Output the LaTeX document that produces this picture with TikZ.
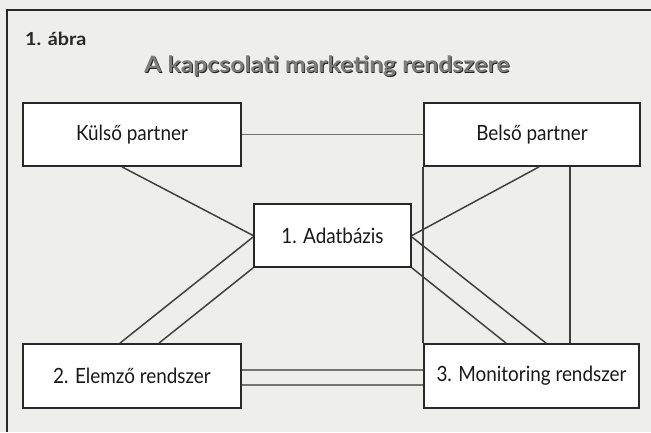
\documentclass[tikz,border=0pt]{standalone}
\usepackage{fontspec}
\setmainfont{Lato}[FakeStretch=0.9]
\newfontfamily\widefont{Lato}[FakeStretch=1.1]
\definecolor{bgcol}{RGB}{238,238,236}
\definecolor{ink}{RGB}{40,40,40}
\definecolor{titlefill}{RGB}{125,125,125}
\begin{document}
\begin{tikzpicture}[x=1pt,y=-1pt,
  box/.style={draw=ink, line width=1.8pt, fill=white, inner sep=0pt,
    font=\fontsize{21}{24}\selectfont, text=black!90},
  link/.style={draw=black!75, line width=1.5pt},
  glink/.style={draw=black!55, line width=1.7pt},
  titletext/.style={font=\widefont\fontsize{22.5}{26}\bfseries\selectfont, inner sep=0pt}]
\fill[bgcol] (0,0) rectangle (651,432);
\useasboundingbox (0,0) rectangle (651,432);
% frame
\draw[line width=2pt, ink] (7,432) -- (7,10) -- (651,10);
% headings
\node[anchor=west, font=\widefont\fontsize{18}{21}\bfseries\selectfont, text=ink, inner sep=0pt] (fig) at (25,39) {1. ábra};
\node[titletext, text=black!85] (titleshadow) at (327.9,66.9) {A kapcsolati marketing rendszere};
\node[titletext, text=titlefill] (title) at (327,66) {A kapcsolati marketing rendszere};
% boxes
\node[box, minimum width=218pt, minimum height=63pt] (kulso) at (132,134.5) {Külső partner};
\node[box, minimum width=216pt, minimum height=63pt] (belso) at (532,134.5) {Belső partner};
\node[box, minimum width=157pt, minimum height=63pt] (adat) at (332.5,235.5) {1. Adatbázis};
\node[box, minimum width=218pt, minimum height=64pt] (elem) at (132,376) {2. Elemző rendszer};
\node[box, minimum width=215pt, minimum height=64pt] (moni) at (531.5,376) {3. Monitoring rendszer};
% connectors
\draw[glink] (kulso.east) -- (belso.west);
\draw[link] ([xshift=-10pt]kulso.south) -- (adat.west);
\draw[link] ([xshift=-12pt]elem.north) -- ([yshift=-1.5pt]adat.west);
\draw[link] ([xshift=27pt]elem.north) -- (adat.south west);
\draw[link] ([xshift=7pt]belso.south) -- (adat.east);
\draw[link] ([yshift=-1.5pt]adat.east) -- ([xshift=14.5pt]moni.north);
\draw[link] (adat.south east) -- ([xshift=-25.5pt]moni.north);
\draw[link] ([xshift=38pt]belso.south) -- ([xshift=38.5pt]moni.north);
\draw[link] (belso.south west) -- (moni.north west);
\draw[glink] ([yshift=6pt]elem.east) -- ([yshift=6pt]moni.west);
\draw[glink] ([yshift=-9pt]elem.east) -- ([yshift=-9pt]moni.west);
\end{tikzpicture}
\end{document}
